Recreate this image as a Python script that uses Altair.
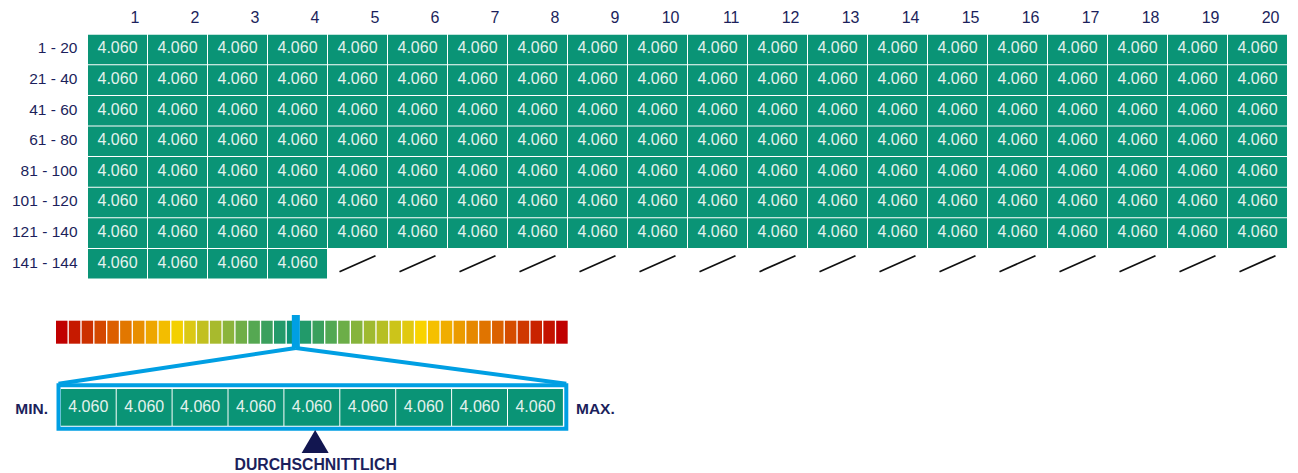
import altair as alt
import pandas as pd

# ---------------- data ----------------
column_labels = ["1", "2", "3", "4", "5", "6", "7", "8", "9", "10",
                 "11", "12", "13", "14", "15", "16", "17", "18", "19", "20"]
row_labels = ["1 - 20", "21 - 40", "41 - 60", "61 - 80", "81 - 100",
              "101 - 120", "121 - 140", "141 - 144"]
cell_values = [
    4060, 4060, 4060, 4060, 4060, 4060, 4060, 4060, 4060, 4060, 4060, 4060, 4060, 4060, 4060, 4060, 4060, 4060, 4060, 4060,
    4060, 4060, 4060, 4060, 4060, 4060, 4060, 4060, 4060, 4060, 4060, 4060, 4060, 4060, 4060, 4060, 4060, 4060, 4060, 4060,
    4060, 4060, 4060, 4060, 4060, 4060, 4060, 4060, 4060, 4060, 4060, 4060, 4060, 4060, 4060, 4060, 4060, 4060, 4060, 4060,
    4060, 4060, 4060, 4060, 4060, 4060, 4060, 4060, 4060, 4060, 4060, 4060, 4060, 4060, 4060, 4060, 4060, 4060, 4060, 4060,
    4060, 4060, 4060, 4060, 4060, 4060, 4060, 4060, 4060, 4060, 4060, 4060, 4060, 4060, 4060, 4060, 4060, 4060, 4060, 4060,
    4060, 4060, 4060, 4060, 4060, 4060, 4060, 4060, 4060, 4060, 4060, 4060, 4060, 4060, 4060, 4060, 4060, 4060, 4060, 4060,
    4060, 4060, 4060, 4060, 4060, 4060, 4060, 4060, 4060, 4060, 4060, 4060, 4060, 4060, 4060, 4060, 4060, 4060, 4060, 4060,
    4060, 4060, 4060, 4060,
]
range_values = [4060, 4060, 4060, 4060, 4060, 4060, 4060, 4060, 4060]
scale_colors = [
    "#c00000", "#c61a00", "#cc3000", "#d44800", "#dc5f00", "#e27700", "#e88e00", "#eea600",
    "#f3bd00", "#f3d000", "#dbc815", "#c2c020", "#a8ba2d", "#8bb43b", "#6fae47", "#55a852",
    "#3ba05e", "#239a6a", "#0c9474", "#229a6a", "#3aa05d", "#52a853", "#6cae48", "#86b43c",
    "#9fba30", "#b6bf24", "#ccc41a", "#e1c910", "#f9d300", "#f5c000", "#f0ad00", "#eb9b00",
    "#e68800", "#e07400", "#db6100", "#d54c00", "#cf3800", "#c92300", "#c41200", "#c00000",
]
scale_marker_position = 18.7     # position of the average on the colour scale (in blocks)
average_position = 4.55          # position of the average inside the min-max row (in cells)
min_label, max_label, avg_label = "MIN.", "MAX.", "DURCHSCHNITTLICH"

# ---------------- layout ----------------
W, H = 1282, 465
FONT = "Liberation Sans"
NAVY = "#1c1f5c"
GREEN = "#0a9476"
CELL_TEXT = "#e4f2ed"
BLUE = "#009fe3"

GX0, CW = 80, 60          # grid left edge, column pitch
GY0, RH = 26.7, 30.6      # grid top, row pitch
N_COLS = len(column_labels)

BX0, BPITCH, BW = 48, 12.825, 11.5   # colour bar
BY0, BY1 = 312.7, 335.7
MX0, MPITCH, MW = 52.8, 55.9, 54.9   # min-max row cells
MY0, MY1 = 381, 417.7
BOX = (50.5, 377.3, 558.3, 420.8)


def fmt(v):
    return f"{v:,}".replace(",", ".")


# grid cells
cells, missing = [], []
for r in range(len(row_labels)):
    for c in range(N_COLS):
        i = r * N_COLS + c
        x = GX0 + c * CW
        y = GY0 + r * RH
        if i < len(cell_values):
            cells.append(dict(x=x, x2=x + CW - 1, y=y, y2=y + RH - 1,
                              cx=x + (CW - 1) / 2, ty=y + 18.7, label=fmt(cell_values[i])))
        else:
            cx, cy = x + (CW - 1) / 2, y + (RH - 1) / 2
            missing.append(dict(x=cx - 18, x2=cx + 18, y=cy + 8, y2=cy - 8))
cells_df = pd.DataFrame(cells)
missing_df = pd.DataFrame(missing)

header_df = pd.DataFrame(dict(
    x=[GX0 + (c + 1) * CW - 8.5 for c in range(N_COLS)],
    y=[14.8] * N_COLS, label=column_labels))
rowlab_df = pd.DataFrame(dict(
    x=[69.5] * len(row_labels),
    y=[GY0 + r * RH + 18.6 for r in range(len(row_labels))], label=row_labels))

bar_df = pd.DataFrame(dict(
    x=[BX0 + k * BPITCH for k in range(len(scale_colors))],
    x2=[BX0 + k * BPITCH + BW for k in range(len(scale_colors))],
    y=[BY0] * len(scale_colors), y2=[BY1] * len(scale_colors), color=scale_colors))

mk = BX0 + scale_marker_position * BPITCH
marker_df = pd.DataFrame(dict(x=[mk - 4], x2=[mk + 4], y=[BY0 - 5.7], y2=[BY1 + 4.3]))
lines_df = pd.DataFrame(dict(x=[mk, mk], y=[BY1 + 4.3, BY1 + 4.3],
                             x2=[BOX[0], BOX[2]], y2=[BOX[1] - 1.5, BOX[1] - 1.5]))
box_df = pd.DataFrame(dict(x=[BOX[0]], y=[BOX[1]], x2=[BOX[2]], y2=[BOX[3]]))

range_df = pd.DataFrame(dict(
    x=[MX0 + i * MPITCH for i in range(len(range_values))],
    x2=[MX0 + i * MPITCH + MW for i in range(len(range_values))],
    y=[MY0] * len(range_values), y2=[MY1] * len(range_values),
    cx=[MX0 + i * MPITCH + MW / 2 for i in range(len(range_values))],
    ty=[MY0 + 23.3] * len(range_values),
    label=[fmt(v) for v in range_values]))

avg_x = MX0 + average_position * MPITCH
tri_df = pd.DataFrame(dict(x=[avg_x], y=[433.5]))
min_df = pd.DataFrame(dict(x=[40], y=[405.5], label=[min_label]))
max_df = pd.DataFrame(dict(x=[568], y=[405.5], label=[max_label]))
avg_df = pd.DataFrame(dict(x=[avg_x + 0.5], y=[461.8], label=[avg_label]))

xs = alt.Scale(domain=[0, W], nice=False, zero=False)
ys = alt.Scale(domain=[0, H], nice=False, zero=False, reverse=True)


def X(f="x"):
    return alt.X(f"{f}:Q", scale=xs, axis=None)


def Y(f="y"):
    return alt.Y(f"{f}:Q", scale=ys, axis=None)


grid_rects = alt.Chart(cells_df).mark_rect(color=GREEN).encode(
    x=X(), x2="x2:Q", y=Y(), y2="y2:Q")
grid_text = alt.Chart(cells_df).mark_text(
    font=FONT, fontSize=16, color=CELL_TEXT, align="center", baseline="alphabetic").encode(
    x=X("cx"), y=Y("ty"), text="label:N")
missing_lines = alt.Chart(missing_df).mark_rule(color="#111111", strokeWidth=1.8).encode(
    x=X(), x2="x2:Q", y=Y(), y2="y2:Q")
headers = alt.Chart(header_df).mark_text(
    font=FONT, fontSize=16, color=NAVY, align="right", baseline="alphabetic").encode(
    x=X(), y=Y(), text="label:N")
rowlabs = alt.Chart(rowlab_df).mark_text(
    font=FONT, fontSize=15.5, color=NAVY, align="right", baseline="alphabetic").encode(
    x=X(), y=Y(), text="label:N")

bar = alt.Chart(bar_df).mark_rect().encode(
    x=X(), x2="x2:Q", y=Y(), y2="y2:Q", color=alt.Color("color:N", scale=None))
lines = alt.Chart(lines_df).mark_rule(color=BLUE, strokeWidth=4).encode(
    x=X(), x2="x2:Q", y=Y(), y2="y2:Q")
marker = alt.Chart(marker_df).mark_rect(color=BLUE).encode(
    x=X(), x2="x2:Q", y=Y(), y2="y2:Q")
box = alt.Chart(box_df).mark_rect(fillOpacity=0, stroke=BLUE, strokeWidth=4).encode(
    x=X(), x2="x2:Q", y=Y(), y2="y2:Q")
range_rects = alt.Chart(range_df).mark_rect(color=GREEN).encode(
    x=X(), x2="x2:Q", y=Y(), y2="y2:Q")
range_text = alt.Chart(range_df).mark_text(
    font=FONT, fontSize=16, color=CELL_TEXT, align="center", baseline="alphabetic").encode(
    x=X("cx"), y=Y("ty"), text="label:N")
min_text = alt.Chart(min_df).mark_text(
    font=FONT, fontSize=15.5, fontWeight="bold", color=NAVY, align="right", baseline="alphabetic").encode(
    x=X(), y=Y(), text="label:N")
max_text = alt.Chart(max_df).mark_text(
    font=FONT, fontSize=15.5, fontWeight="bold", color=NAVY, align="left", baseline="alphabetic").encode(
    x=X(), y=Y(), text="label:N")
triangle = alt.Chart(tri_df).mark_point(
    shape="M0,-0.85L1,0.85L-1,0.85Z", filled=True, size=729, color="#121650", opacity=1, strokeWidth=0).encode(
    x=X(), y=Y())
avg_text = alt.Chart(avg_df).mark_text(
    font=FONT, fontSize=15.8, fontWeight="bold", color=NAVY, align="center", baseline="alphabetic").encode(
    x=X(), y=Y(), text="label:N")

chart = alt.layer(
    grid_rects, grid_text, missing_lines, headers, rowlabs,
    bar, lines, marker, box, range_rects, range_text,
    min_text, max_text, triangle, avg_text,
).properties(
    width=W, height=H, padding=0,
    autosize=alt.AutoSizeParams(type="none"),
    background="white",
).configure_view(stroke=None)

chart.save("out.html", embed_options={"renderer": "svg", "actions": False})
